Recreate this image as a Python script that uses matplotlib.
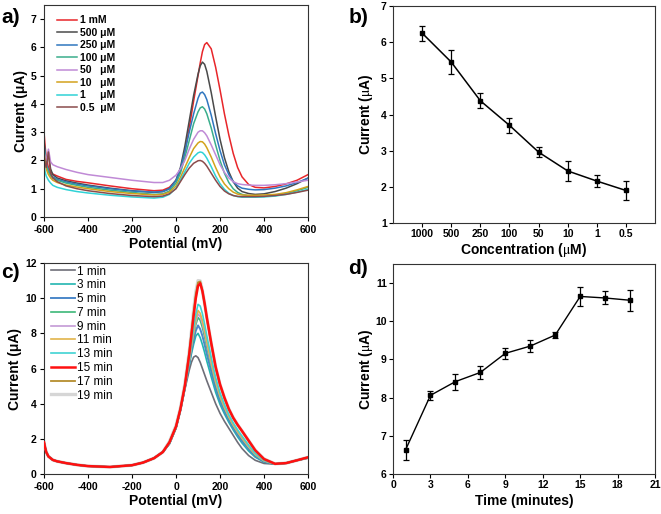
import matplotlib
matplotlib.use("Agg")
import matplotlib.pyplot as plt

plt.rcParams['font.family'] = ['Liberation Sans', 'DejaVu Sans']
plt.rcParams['mathtext.fontset'] = 'stix'
plt.rcParams['axes.unicode_minus'] = False

# ---- panel a: DPV at different concentrations
pot_a = [-600, -595, -590, -580, -570, -560, -540, -500, -450, -400, -300, -200, -100, -60, -30,
         0, 20, 40, 60, 80, 100, 110, 120, 130, 140, 160, 180, 200, 220, 240, 260, 280, 300,
         330, 360, 400, 450, 500, 550, 600]
conc_labels = ['1 mM', '500 μM', '250 μM', '100 μM', '50   μM', '10   μM', '1     μM', '0.5  μM']
conc_colors = ['#e8262a', '#4a4a4a', '#2f76bf', '#3aae8c', '#c08ad6', '#d3a21c', '#30d2d6', '#8a4b4b']
cur_1mM = [3.0, 2.5, 2.1, 1.75, 1.6, 1.52, 1.45, 1.33, 1.26, 1.21, 1.1, 1.0, 0.93, 0.95, 1.05,
           1.3, 1.65, 2.3, 3.15, 4.1, 5.0, 5.45, 5.85, 6.1, 6.17, 5.95, 5.3, 4.5, 3.65, 2.9, 2.25, 1.75, 1.42,
           1.15, 1.05, 1.03, 1.08, 1.17, 1.3, 1.5]
cur_500 = [2.7, 2.3, 2.0, 2.2, 1.7, 1.5, 1.38, 1.28, 1.2, 1.13, 1.02, 0.93, 0.87, 0.9, 1.0,
           1.3, 1.75, 2.5, 3.4, 4.3, 5.05, 5.35, 5.48, 5.4, 5.15, 4.4, 3.55, 2.75, 2.1, 1.6, 1.25, 1.02, 0.9,
           0.83, 0.8, 0.82, 0.9, 1.02, 1.18, 1.38]
cur_250 = [2.6, 2.2, 1.9, 1.65, 1.5, 1.42, 1.33, 1.24, 1.16, 1.1, 1.0, 0.92, 0.88, 0.9, 1.0,
           1.3, 1.7, 2.3, 3.0, 3.65, 4.2, 4.38, 4.42, 4.33, 4.15, 3.6, 2.95, 2.35, 1.85, 1.5, 1.25, 1.1, 1.02,
           0.98, 0.96, 0.97, 1.02, 1.1, 1.22, 1.37]
cur_100 = [2.5, 2.1, 1.85, 1.6, 1.45, 1.38, 1.3, 1.2, 1.12, 1.05, 0.95, 0.87, 0.8, 0.82, 0.92,
           1.2, 1.55, 2.1, 2.7, 3.3, 3.72, 3.86, 3.9, 3.82, 3.65, 3.15, 2.55, 2.0, 1.55, 1.22, 1.0, 0.87, 0.8,
           0.75, 0.73, 0.73, 0.76, 0.83, 0.93, 1.05]
cur_50 = [2.3, 2.1, 2.0, 2.4, 1.95, 1.85, 1.78, 1.68, 1.58, 1.5, 1.4, 1.3, 1.22, 1.22, 1.3,
          1.48, 1.7, 2.0, 2.4, 2.75, 3.0, 3.05, 3.05, 2.98, 2.87, 2.55, 2.2, 1.85, 1.58, 1.38, 1.25, 1.18, 1.15,
          1.13, 1.12, 1.12, 1.14, 1.18, 1.24, 1.3]
cur_10 = [2.3, 1.95, 1.7, 1.5, 1.38, 1.3, 1.22, 1.13, 1.06, 1.0, 0.9, 0.83, 0.78, 0.8, 0.88,
          1.1, 1.4, 1.75, 2.1, 2.42, 2.62, 2.67, 2.66, 2.58, 2.45, 2.12, 1.75, 1.42, 1.17, 1.0, 0.88, 0.81, 0.78,
          0.77, 0.77, 0.78, 0.8, 0.86, 0.96, 1.08]
cur_1 = [1.85, 1.6, 1.45, 1.3, 1.2, 1.12, 1.05, 0.97, 0.9, 0.85, 0.77, 0.71, 0.67, 0.7, 0.8,
         1.02, 1.3, 1.6, 1.9, 2.12, 2.27, 2.3, 2.28, 2.2, 2.08, 1.78, 1.45, 1.18, 0.98, 0.84, 0.76, 0.72, 0.7,
         0.7, 0.7, 0.71, 0.74, 0.8, 0.88, 0.98]
cur_05 = [2.2, 1.9, 1.75, 2.3, 1.55, 1.38, 1.25, 1.1, 1.0, 0.93, 0.83, 0.76, 0.72, 0.74, 0.82,
          1.0, 1.25, 1.5, 1.73, 1.9, 1.99, 2.0, 1.97, 1.9, 1.8, 1.55, 1.3, 1.08, 0.92, 0.82, 0.76, 0.73, 0.72,
          0.72, 0.72, 0.73, 0.76, 0.8, 0.87, 0.95]
curves_a = [cur_1mM, cur_500, cur_250, cur_100, cur_50, cur_10, cur_1, cur_05]

# ---- panel b: peak current vs concentration
conc_ticks = ['1000', '500', '250', '100', '50', '10', '1', '0.5']
peak_b = [6.25, 5.45, 4.38, 3.70, 2.96, 2.44, 2.16, 1.90]
err_b = [0.21, 0.33, 0.21, 0.21, 0.14, 0.28, 0.17, 0.26]

# ---- panel c: DPV at different incubation times
pot_c_base = [-600, -595, -590, -580, -570, -560, -540, -500, -450, -400, -300, -200, -150, -100, -60]
cur_c_base = [1.8, 1.5, 1.25, 1.0, 0.9, 0.8, 0.72, 0.62, 0.52, 0.45, 0.4, 0.5, 0.65, 0.9, 1.25]
pot_c_peak = [-30, 0, 20, 40, 60, 70, 80, 90, 100, 110, 120, 130, 140, 160, 180, 200, 220, 240, 260,
              280, 300, 330, 360, 400, 450, 500, 550, 600]
time_labels = ['1 min', '3 min', '5 min', '7 min', '9 min', '11 min', '13 min', '15 min', '17 min', '19 min']
time_colors = ['#6e6e78', '#22b5b0', '#4b87c9', '#3cb878', '#c49ad6', '#e2b44a', '#3fd3d3', '#ff1010',
               '#b58d2e', '#d6d6d6']
time_widths = [1.2, 1.2, 1.4, 1.2, 1.2, 1.2, 1.2, 1.8, 1.3, 2.4]
time_z = [3, 3, 3, 3, 3, 3, 3, 5, 2, 1]
t1 = [1.7, 2.6, 3.6, 4.8, 5.9, 6.35, 6.65, 6.72, 6.62, 6.35, 6.0, 5.65, 5.3, 4.65, 4.0, 3.45, 3.0,
      2.6, 2.2, 1.8, 1.45, 1.05, 0.78, 0.6, 0.56, 0.62, 0.78, 0.9]
t3 = [1.73, 2.63, 3.63, 4.86, 6.18, 6.83, 7.38, 7.85, 8.0, 7.75, 7.36, 6.91, 6.42, 5.52, 4.65, 3.96, 3.42,
      2.94, 2.51, 2.11, 1.76, 1.31, 0.96, 0.68, 0.57, 0.62, 0.78, 0.92]
t5 = [1.74, 2.64, 3.64, 4.88, 6.28, 7.0, 7.64, 8.15, 8.45, 8.24, 7.85, 7.35, 6.81, 5.83, 4.88, 4.14, 3.57,
      3.06, 2.62, 2.22, 1.87, 1.41, 1.02, 0.7, 0.57, 0.62, 0.78, 0.92]
t7 = [1.75, 2.65, 3.65, 4.91, 6.38, 7.17, 7.9, 8.5, 8.9, 8.74, 8.33, 7.8, 7.21, 6.13, 5.11, 4.32, 3.72,
      3.18, 2.73, 2.33, 1.98, 1.5, 1.08, 0.73, 0.57, 0.62, 0.78, 0.92]
t9 = [1.76, 2.66, 3.66, 4.92, 6.42, 7.25, 8.01, 8.65, 9.1, 8.96, 8.55, 8.0, 7.39, 6.27, 5.22, 4.41, 3.78,
      3.24, 2.78, 2.38, 2.03, 1.54, 1.11, 0.75, 0.57, 0.62, 0.78, 0.92]
t11 = [1.76, 2.66, 3.66, 4.92, 6.46, 7.31, 8.11, 8.8, 9.3, 9.14, 8.73, 8.16, 7.53, 6.39, 5.3, 4.47, 3.84,
       3.28, 2.82, 2.42, 2.07, 1.58, 1.13, 0.76, 0.57, 0.62, 0.78, 0.92]
t13 = [1.77, 2.67, 3.67, 4.94, 6.54, 7.45, 8.32, 9.1, 9.65, 9.55, 9.12, 8.53, 7.86, 6.64, 5.49, 4.62, 3.96,
       3.38, 2.91, 2.51, 2.16, 1.65, 1.18, 0.78, 0.57, 0.62, 0.78, 0.92]
t15 = [1.8, 2.7, 3.7, 5.0, 6.8, 7.9, 9.0, 10.0, 10.7, 10.85, 10.4, 9.7, 8.9, 7.45, 6.1, 5.1, 4.35,
       3.7, 3.2, 2.8, 2.45, 1.9, 1.35, 0.85, 0.58, 0.62, 0.78, 0.95]
t17 = [1.82, 2.72, 3.72, 5.05, 6.9, 8.05, 9.2, 10.25, 10.9, 10.95, 10.4, 9.65, 8.85, 7.4, 6.05, 5.05, 4.3,
       3.68, 3.18, 2.78, 2.42, 1.88, 1.33, 0.85, 0.58, 0.62, 0.78, 0.95]
t19 = [1.84, 2.75, 3.75, 5.1, 6.95, 8.1, 9.3, 10.35, 11.0, 10.98, 10.42, 9.68, 8.88, 7.42, 6.08, 5.08, 4.33,
       3.7, 3.2, 2.8, 2.44, 1.9, 1.35, 0.86, 0.58, 0.62, 0.78, 0.95]
curves_c = [t1, t3, t5, t7, t9, t11, t13, t15, t17, t19]

# ---- panel d: peak current vs time
time_d = [1, 3, 5, 7, 9, 11, 13, 15, 17, 19]
peak_d = [6.63, 8.06, 8.42, 8.66, 9.16, 9.35, 9.64, 10.65, 10.61, 10.55]
err_d = [0.25, 0.12, 0.21, 0.18, 0.14, 0.16, 0.08, 0.25, 0.17, 0.28]

fig = plt.figure(figsize=(6.61, 5.14), dpi=100)
ax_a = fig.add_axes([0.0666, 0.5778, 0.3994, 0.4125])
ax_b = fig.add_axes([0.5946, 0.5661, 0.3964, 0.4222])
ax_c = fig.add_axes([0.0666, 0.0778, 0.3994, 0.4105])
ax_d = fig.add_axes([0.5946, 0.0778, 0.3964, 0.4086])


def style(ax, pad=2.5):
    for s in ax.spines.values():
        s.set_linewidth(0.8)
        s.set_color('#333333')
    ax.tick_params(labelsize=7.5, width=0.8, length=3, direction='out', pad=pad)
    for lab in ax.get_xticklabels() + ax.get_yticklabels():
        lab.set_fontweight('bold')


# a
for cur, col, lab in zip(curves_a, conc_colors, conc_labels):
    ax_a.plot(pot_a, cur, color=col, lw=1.1, label=lab)
ax_a.set_xlim(-600, 600)
ax_a.set_ylim(0, 7.5)
ax_a.set_xticks([-600, -400, -200, 0, 200, 400, 600])
ax_a.set_yticks(range(0, 8))
ax_a.set_xlabel('Potential (mV)', fontsize=10, fontweight='bold', labelpad=2)
ax_a.set_ylabel('Current (μA)', fontsize=10, fontweight='bold', labelpad=2)
style(ax_a)
ax_a.legend(loc='upper left', frameon=False, handlelength=1.9, handletextpad=0.3,
            labelspacing=0.24, borderaxespad=0.3, bbox_to_anchor=(0.023, 0.985),
            prop={'weight': 'bold', 'size': 7.5})

# b
xb = list(range(1, len(peak_b) + 1))
ax_b.errorbar(xb, peak_b, yerr=err_b, color='black', marker='s', ms=3.5, lw=1.1,
              capsize=2, elinewidth=0.9, capthick=0.9)
ax_b.set_xlim(0, len(peak_b) + 1)
ax_b.set_ylim(1, 7)
ax_b.set_xticks(xb)
ax_b.set_xticklabels(conc_ticks)
ax_b.set_yticks(range(1, 8))
ax_b.set_xlabel('Concentration ($\\mathrm{\\mu}$M)', fontsize=10, fontweight='bold', labelpad=1)
ax_b.set_ylabel('Current ($\\mathrm{\\mu}$A)', fontsize=10, fontweight='bold', labelpad=4)
style(ax_b, pad=1.5)

# c
for cur, col, lw, z, lab in zip(curves_c, time_colors, time_widths, time_z, time_labels):
    ax_c.plot(pot_c_base + pot_c_peak, cur_c_base + cur, color=col, lw=lw, zorder=z, label=lab)
ax_c.set_xlim(-600, 600)
ax_c.set_ylim(0, 12)
ax_c.set_xticks([-600, -400, -200, 0, 200, 400, 600])
ax_c.set_yticks(range(0, 13, 2))
ax_c.set_xlabel('Potential (mV)', fontsize=10, fontweight='bold', labelpad=2)
ax_c.set_ylabel('Current (μA)', fontsize=10, fontweight='bold', labelpad=2)
style(ax_c)
ax_c.legend(loc='upper left', frameon=False, fontsize=8.5, handlelength=2.0, handletextpad=0.2,
            labelspacing=0.15, borderaxespad=0.0, bbox_to_anchor=(0.01, 1.01))

# d
ax_d.errorbar(time_d, peak_d, yerr=err_d, color='black', marker='s', ms=3.5, lw=1.0,
              capsize=2, elinewidth=0.9, capthick=0.9)
ax_d.set_xlim(0, 21)
ax_d.set_ylim(6, 11.5)
ax_d.set_xticks(range(0, 22, 3))
ax_d.set_yticks(range(6, 12))
ax_d.set_xlabel('Time (minutes)', fontsize=10, fontweight='bold', labelpad=3)
ax_d.set_ylabel('Current ($\\mathrm{\\mu}$A)', fontsize=10, fontweight='bold', labelpad=0.5)
style(ax_d, pad=1.5)

for lab, x, y in [('a)', 0.002, 0.965), ('b)', 0.527, 0.965), ('c)', 0.002, 0.47), ('d)', 0.527, 0.478)]:
    fig.text(x, y, lab, fontsize=15, fontweight='bold', va='center', ha='left')

fig.savefig('out.png', dpi=100)
